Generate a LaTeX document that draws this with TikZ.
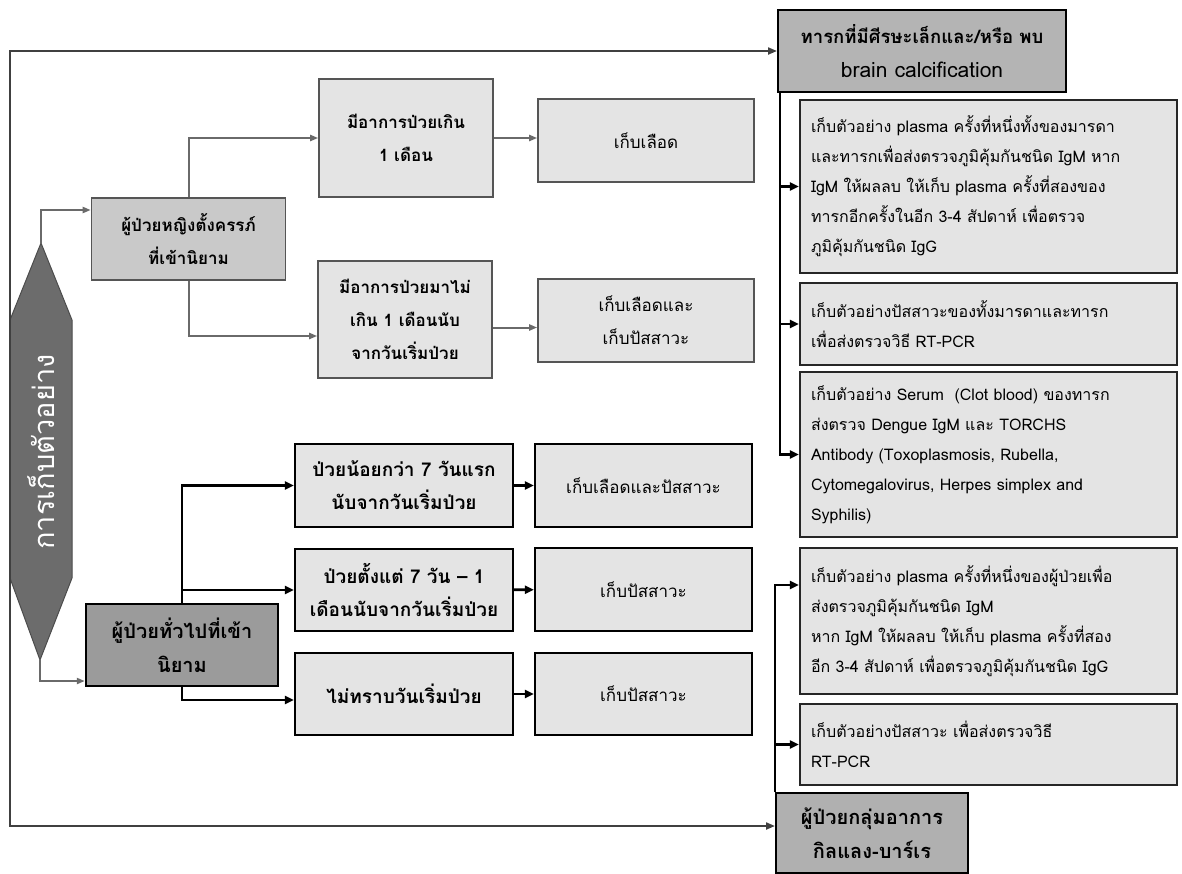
\documentclass[tikz,border=0pt]{standalone}
\usepackage{fontspec}
\setmainfont[Script=Thai]{Loma}
\usetikzlibrary{arrows.meta}
\definecolor{cframe}{HTML}{404040}
\definecolor{cgray}{HTML}{6A6A6A}
\definecolor{clight}{HTML}{E4E4E4}
\definecolor{cpreg}{HTML}{C9C9C9}
\definecolor{ctop}{HTML}{B4B4B4}
\definecolor{cgen}{HTML}{9B9B9B}
\definecolor{cgb}{HTML}{B0B0B0}
\definecolor{chex}{HTML}{6C6C6C}
\definecolor{cborder}{HTML}{555555}
\newcommand{\myU}{\bfseries\fontsize{17}{33}\selectfont}
\newcommand{\myL}{\bfseries\fontsize{19}{33}\selectfont}
\newcommand{\myG}{\bfseries\fontsize{20}{34}\selectfont}
\newcommand{\myK}{\fontsize{17}{33}\selectfont}
\newcommand{\myR}{\fontsize{16}{30}\selectfont}
\newcommand{\myT}{\fontsize{21}{34}\selectfont}
\newcommand{\myTb}{\bfseries\fontsize{18.5}{34}\selectfont}
\newcommand{\myH}{\fontsize{29}{32}\selectfont}
\begin{document}
\begin{tikzpicture}[x=1pt,y=-1pt,
  upbox/.style={draw=cborder, line width=1.6pt, fill=clight, inner sep=0pt, align=center},
  lowbox/.style={draw=black, line width=2.4pt, fill=clight, inner sep=0pt, align=center},
  rbox/.style={draw=black!85, line width=2.4pt, fill=clight, inner xsep=11pt, inner ysep=0pt,
    minimum width=377pt, text width=355pt, align=left, font=\myR},
  garrow/.style={draw=cgray, line width=2pt, -{Triangle[length=8pt,width=6pt]}},
  barrow/.style={draw=black, line width=2.6pt, -{Triangle[length=9pt,width=8pt]}},
  farrow/.style={draw=cframe, line width=2pt, -{Triangle[length=9pt,width=7pt]}}
]
\useasboundingbox (0,0) rectangle (1182,873);
\fill[white] (0,0) rectangle (1182,873);

% hexagon
\filldraw[fill=chex, draw=black!70, line width=1pt] (41,243) -- (72,320) -- (72,578) -- (40,660) -- (10,578) -- (10,320) -- cycle;
\coordinate (htop) at (41,243);
\coordinate (hbot) at (40,660);
\coordinate (hl) at (10,450);
\node[rotate=90, text=white, font=\myH] (hex) at (41,452) {การเก็บตัวอย่าง};

% upper-left group
\node[upbox, fill=cpreg, minimum width=194pt, minimum height=82pt, font=\myU] (preg) at (188.5,239) {ผู้ป่วยหญิงตั้งครรภ์\\ที่เข้านิยาม};
\node[upbox, minimum width=174pt, minimum height=118pt, font=\myU] (b1) at (406,138) {มีอาการป่วยเกิน\\1 เดือน};
\node[upbox, minimum width=174pt, minimum height=117pt, font=\myU] (b2) at (405,319.5) {มีอาการป่วยมาไม่\\เกิน 1 เดือนนับ\\จากวันเริ่มป่วย};
\node[upbox, minimum width=216pt, minimum height=83pt, font=\myK] (k1) at (646,140.5) {เก็บเลือด};
\node[upbox, minimum width=216pt, minimum height=83pt, font=\myK] (k2) at (646,320.5) {เก็บเลือดและ\\เก็บปัสสาวะ};

% lower-left group
\node[lowbox, fill=cgen, minimum width=192pt, minimum height=82pt, font=\myG] (gen) at (182,645) {ผู้ป่วยทั่วไปที่เข้า\\นิยาม};
\node[lowbox, minimum width=218pt, minimum height=83pt, font=\myL] (l1) at (404,485.5) {ป่วยน้อยกว่า 7 วันแรก\\นับจากวันเริ่มป่วย};
\node[lowbox, minimum width=218pt, minimum height=82pt, font=\myL] (l2) at (404,590) {ป่วยตั้งแต่ 7 วัน – 1\\เดือนนับจากวันเริ่มป่วย};
\node[lowbox, minimum width=218pt, minimum height=82pt, font=\myL] (l3) at (404,694) {ไม่ทราบวันเริ่มป่วย};
\node[lowbox, minimum width=217pt, minimum height=83pt, font=\myK] (r1) at (643.5,485.5) {เก็บเลือดและปัสสาวะ};
\node[lowbox, minimum width=217pt, minimum height=83pt, font=\myK] (r2) at (643.5,589.5) {เก็บปัสสาวะ};
\node[lowbox, minimum width=217pt, minimum height=82pt, font=\myK] (r3) at (643.5,694) {เก็บปัสสาวะ};

% right column
\node[lowbox, fill=ctop, line width=2pt, minimum width=288pt, minimum height=82pt, font=\myT] (tb) at (922,51) {{\myTb ทารกที่มีศีรษะเล็กและ/หรือ พบ}\\brain calcification};
\node[rbox, minimum height=173pt] (a1) at (988.5,186.5) {เก็บตัวอย่าง plasma ครั้งที่หนึ่งทั้งของมารดา\\และทารกเพื่อส่งตรวจภูมิคุ้มกันชนิด IgM หาก\\IgM ให้ผลลบ ให้เก็บ plasma ครั้งที่สองของ\\ทารกอีกครั้งในอีก 3-4 สัปดาห์ เพื่อตรวจ\\ภูมิคุ้มกันชนิด IgG};
\node[rbox, minimum height=82pt] (a2) at (988.5,324) {เก็บตัวอย่างปัสสาวะของทั้งมารดาและทารก\\เพื่อส่งตรวจวิธี RT-PCR};
\node[rbox, minimum height=165pt] (a3) at (988.5,454.5) {เก็บตัวอย่าง Serum~ (Clot blood) ของทารก\\ส่งตรวจ Dengue IgM และ TORCHS\\Antibody (Toxoplasmosis, Rubella,\\Cytomegalovirus, Herpes simplex and\\Syphilis)};
\node[rbox, minimum height=146pt] (c1) at (988.5,621) {เก็บตัวอย่าง plasma ครั้งที่หนึ่งของผู้ป่วยเพื่อ\\ส่งตรวจภูมิคุ้มกันชนิด IgM\\หาก IgM ให้ผลลบ ให้เก็บ plasma ครั้งที่สอง\\อีก 3-4 สัปดาห์ เพื่อตรวจภูมิคุ้มกันชนิด IgG};
\node[rbox, minimum height=81pt] (c2) at (988.5,744.5) {เก็บตัวอย่างปัสสาวะ เพื่อส่งตรวจวิธี\\RT-PCR};
\node[lowbox, fill=cgb, line width=2pt, minimum width=192pt, minimum height=80pt, font=\myG] (gb) at (872,833) {ผู้ป่วยกลุ่มอาการ\\กิลแลง-บาร์เร};

% frame
\draw[farrow] (hl) |- (tb.west);
\draw[farrow] (hl) |- ([yshift=7pt]gb.west);

% upper connectors
\draw[garrow] (htop) |- ([yshift=29pt]preg.west);
\draw[garrow] (hbot) |- ([yshift=-36pt]gen.west);
\draw[garrow] (preg.north) |- (b1.west);
\draw[garrow] (preg.south) |- ([yshift=-16.5pt]b2.west);
\draw[garrow] (b1.east) -- (b1.east -| k1.west);
\draw[garrow] ([yshift=-8pt]b2.east) -- ([yshift=-8pt]b2.east -| k2.west);

% lower connectors
\draw[barrow] (gen.north) |- (l1.west);
\draw[barrow] (gen.north) |- (l2.west);
\draw[barrow] (gen.south) |- ([yshift=-6pt]l3.west);
\draw[barrow] (l1) -- (r1);
\draw[barrow] (l2) -- (r2);
\draw[barrow] (l3) -- (r3);

% right connectors
\coordinate (tv) at ([xshift=3pt]tb.south west);
\draw[barrow, line width=2.2pt] (tv) |- (a1.west);
\draw[barrow, line width=2.2pt] (tv) |- (a2.west);
\draw[barrow, line width=2.2pt] (tv) |- (a3.west);
\coordinate (gv) at (gb.north west);
\draw[barrow, line width=2.2pt] (gv) |- ([yshift=36pt]c1.west);
\draw[barrow, line width=2.2pt] (gv) |- (c2.west);
\end{tikzpicture}
\end{document}
